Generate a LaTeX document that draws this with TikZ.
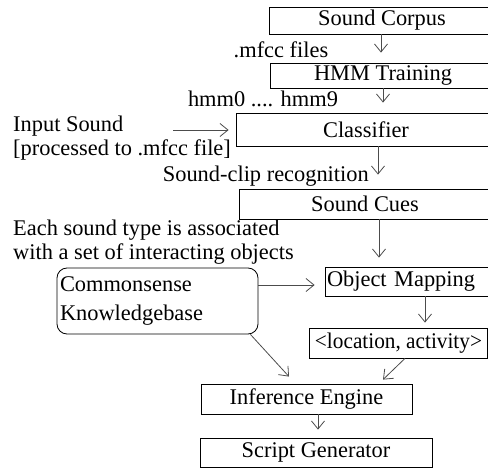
\documentclass[tikz,border=0pt]{standalone}
\usepackage{fontspec}
\setmainfont{Liberation Serif}
\usetikzlibrary{arrows.meta}
\begin{document}
\begin{tikzpicture}[x=1pt,y=-1pt,
  every node/.style={font=\fontsize{22.4}{28.5}\selectfont, inner sep=0pt},
  box/.style={draw=black, line width=0.8pt, anchor=center},
  lbl/.style={anchor=base west},
  arr/.style={draw=black!70, line width=0.8pt, -{Straight Barb[length=8pt,width=13pt,line width=0.8pt]}}]
\useasboundingbox (0,0) rectangle (488,468);
\clip (0,0) rectangle (488,468);
% boxes
\node[box, minimum width=226, minimum height=27] (corpus) at (382,20.5) {Sound Corpus};
\node[box, minimum width=226, minimum height=25] (hmm) at (383,75.5) {HMM Training};
\node[box, minimum width=260, minimum height=33] (clf) at (366,129.5) {Classifier};
\node[box, minimum width=252, minimum height=30] (cues) at (365,204) {Sound Cues};
\node[box, text width=159, inner xsep=2pt, align=left, minimum height=29] (obj) at (406.5,281.5) {Object Mapping};
\node[box, minimum width=178, minimum height=30] (loc) at (398.5,343) {\scalebox{0.95}[1]{<location, activity>}};
\node[box, rounded corners=10pt, text width=195, inner xsep=3pt, align=left, minimum height=66] (kb) at (157.5,301) {Commonsense\\Knowledgebase};
\node[box, minimum width=211, minimum height=30] (inf) at (306.5,399) {Inference Engine};
\node[box, minimum width=232, minimum height=29] (gen) at (316,452.5) {Script Generator};
% labels
\node[anchor=base] (mfcc) at (281,58) {.mfcc files};
\node[anchor=base] (hmmn) at (263,107) {hmm0 .... hmm9};
\node[lbl] (inp) at (13,132) {Input Sound};
\node[lbl] (proc) at (13,156) {[processed to .mfcc file]};
\node[anchor=base east] (rec) at (369,182) {Sound-clip recognition};
\node[lbl] (each) at (13,236) {Each sound type is associated};
\node[lbl] (with) at (13,260) {with a set of interacting objects};
\coordinate (inpstart) at (173,130);
% connectors
\draw[arr] ([xshift=-1pt]corpus.south) -- ([xshift=-2pt,yshift=10pt]hmm.north);
\draw[arr] (hmm.south) -- ([xshift=17pt,yshift=10pt]clf.north);
\draw[arr] (inpstart) -- ([xshift=-7pt,yshift=-0.5pt]clf.west);
\draw[arr] ([xshift=12pt]clf.south) -- ([xshift=13pt,yshift=14pt]cues.north);
\draw[arr] ([xshift=14pt]cues.south) -- ([xshift=-27.5pt,yshift=9pt]obj.north);
\draw[arr] ([yshift=16pt]kb.east) -- ([xshift=-10pt,yshift=-3.5pt]obj.west);
\draw[arr] ([xshift=18.5pt]obj.south) -- ([xshift=26.5pt,yshift=5pt]loc.north);
\draw[arr] ([xshift=6.5pt]loc.south) -- ([xshift=76.5pt,yshift=4pt]inf.north);
\draw[arr] ([xshift=-8pt]kb.south east) -- ([xshift=-17.5pt,yshift=7pt]inf.north);
\draw[arr] ([xshift=11.5pt]inf.south) -- ([xshift=2pt,yshift=8pt]gen.north);
\end{tikzpicture}
\end{document}
